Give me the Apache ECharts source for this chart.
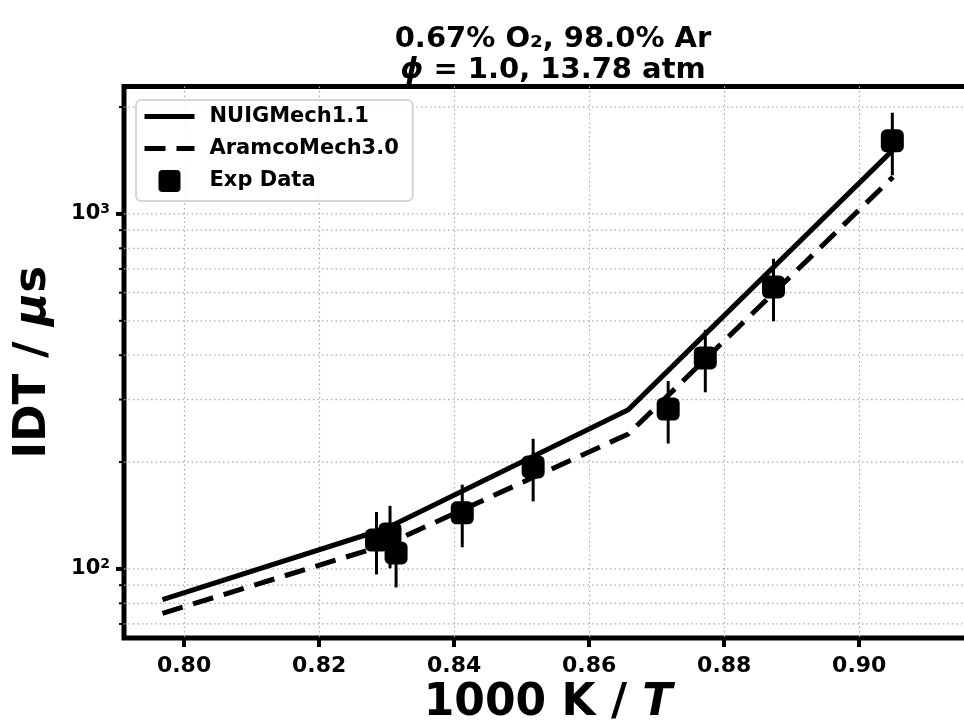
<!DOCTYPE html>
<html><head><meta charset="utf-8">
<script src="https://cdn.jsdelivr.net/npm/echarts@6/dist/echarts.min.js"></script>
<style>html,body{margin:0;padding:0;background:#fff}#c{width:964px;height:724px}</style>
</head><body><div id="c"></div>
<script>
// ---- data ----
const xTicks = [0.80, 0.82, 0.84, 0.86, 0.88, 0.90];
const yMajorTicks = [100, 1000];
const yMinorTicks = [70, 80, 90, 200, 300, 400, 500, 600, 700, 800, 900, 2000];
const simX = [0.7968, 0.8299, 0.8658, 0.9050];
const nuigIDT = [82, 130, 281, 1515];
const aramcoIDT = [75, 117, 240, 1271];
const expX = [0.8285, 0.8305, 0.8314, 0.8412, 0.8517, 0.8717, 0.8772, 0.8873, 0.9049];
const expIDT = [120.6, 125.5, 110.9, 143.9, 193.8, 282, 393, 623, 1606];
const expLow = [96.5, 100.4, 88.7, 115.1, 155.0, 225.6, 314.4, 498.4, 1284.8];
const expHigh = [144.7, 150.6, 133.1, 172.7, 232.6, 338.4, 471.6, 747.6, 1927.2];
const X_MIN = 0.7911, X_MAX = 0.9167, Y_MIN = 63.9, Y_MAX = 2285;

const FONT = 'DejaVu Sans';
const chart = echarts.init(document.getElementById('c'), null, {renderer: 'canvas'});

const gridLineData = yMajorTicks.map(v => [X_MIN, v, 1]).concat(yMinorTicks.map(v => [X_MIN, v, 0]));
const squareIcon = 'path://M4,0 H18 A4,4 0 0 1 22,4 V18 A4,4 0 0 1 18,22 H4 A4,4 0 0 1 0,18 V4 A4,4 0 0 1 4,0 Z';

const option = {
  animation: false,
  backgroundColor: '#fff',
  title: {
    text: '0.67% O₂, 98.0% Ar\n{i|ϕ} = 1.0, 13.78 atm',
    left: 548, top: 19, textAlign: 'center',
    textStyle: {fontFamily: FONT, fontWeight: 'bold', fontSize: 29, color: '#000', lineHeight: 31,
      rich: {i: {fontFamily: FONT, fontWeight: 'bold', fontStyle: 'italic', fontSize: 29, lineHeight: 31}}}
  },
  legend: {
    orient: 'vertical', left: 136, top: 100,
    data: [
      {name: 'NUIGMech1.1', itemStyle: {opacity: 0}},
      {name: 'AramcoMech3.0', itemStyle: {opacity: 0}},
      {name: 'Exp Data', icon: squareIcon}
    ],
    symbolKeepAspect: true,
    itemWidth: 50, itemHeight: 22, itemGap: 11,
    padding: [6, 14, 9, 6],
    lineStyle: {width: 5},
    backgroundColor: 'rgba(255,255,255,0.85)', borderColor: '#cccccc', borderWidth: 1.5, borderRadius: 5,
    textStyle: {fontFamily: FONT, fontWeight: 'bold', fontSize: 21, color: '#000', padding: [0, 0, 0, 10]}
  },
  grid: {left: 124, top: 86.5, width: 848, bottom: 86, show: true, borderColor: '#000', borderWidth: 5,
    containLabel: false, outerBoundsMode: 'none'},
  xAxis: {
    type: 'value', min: X_MIN, max: X_MAX,
    name: '1000 K / {i|T}', nameLocation: 'middle', nameGap: 44,
    nameTextStyle: {fontFamily: FONT, fontWeight: 'bold', fontSize: 44, color: '#000',
      rich: {i: {fontFamily: FONT, fontWeight: 'bold', fontStyle: 'italic', fontSize: 44}}},
    axisLine: {show: false},
    axisTick: {show: true, customValues: xTicks, length: 9, lineStyle: {width: 4, color: '#000'}},
    axisLabel: {customValues: xTicks, fontFamily: FONT, fontWeight: 'bold', fontSize: 22, color: '#000', margin: 17,
      formatter: v => v.toFixed(2)},
    splitLine: {show: true, lineStyle: {color: '#aaaaaa', width: 1.2, type: [1.5, 3]}}
  },
  yAxis: {
    type: 'log', logBase: 10, min: Y_MIN, max: Y_MAX,
    name: 'IDT / {i|μ}s', nameLocation: 'middle', nameGap: 68, nameRotate: 90,
    nameTextStyle: {fontFamily: FONT, fontWeight: 'bold', fontSize: 45, color: '#000',
      rich: {i: {fontFamily: FONT, fontWeight: 'bold', fontStyle: 'italic', fontSize: 45}}},
    axisLine: {show: false},
    axisTick: {show: false},
    splitLine: {show: false},
    axisLabel: {
      fontFamily: FONT, fontWeight: 'bold', fontSize: 21, color: '#000', margin: 14,
      formatter: function (v) {
        const e = Math.log10(v);
        if (Math.abs(e - Math.round(e)) < 1e-6 && (Math.round(e) === 2 || Math.round(e) === 3)) {
          return '10{s|' + Math.round(e) + '}';
        }
        return '';
      },
      rich: {s: {fontFamily: FONT, fontWeight: 'bold', fontSize: 14, verticalAlign: 'top', padding: [0, 0, 10, 0]}}
    }
  },
  series: [
    {
      type: 'custom', name: 'ygrid', silent: true, clip: false, z: 1,
      data: gridLineData,
      renderItem: function (params, api) {
        const v = api.value(1), major = api.value(2);
        const p0 = api.coord([X_MIN, v]);
        const p1 = api.coord([X_MAX, v]);
        return {
          type: 'group', children: [
            {type: 'line', shape: {x1: p0[0], y1: p0[1], x2: p1[0], y2: p1[1]},
              style: {stroke: '#aaaaaa', lineWidth: 1.2, lineDash: [1.5, 3]}},
            {type: 'line', shape: {x1: p0[0] - (major ? 8 : 5), y1: p0[1], x2: p0[0], y2: p0[1]},
              style: {stroke: '#000', lineWidth: major ? 4 : 2}}
          ]
        };
      }
    },
    {
      type: 'line', name: 'NUIGMech1.1', symbol: 'none', z: 3,
      data: simX.map((x, i) => [x, nuigIDT[i]]),
      lineStyle: {color: '#000', width: 5}, itemStyle: {color: '#000'}
    },
    {
      type: 'line', name: 'AramcoMech3.0', symbol: 'none', z: 3,
      data: simX.map((x, i) => [x, aramcoIDT[i]]),
      lineStyle: {color: '#000', width: 5, type: [21, 11]}, itemStyle: {color: '#000'}
    },
    {
      type: 'custom', name: 'errbars', silent: true, z: 4,
      data: expX.map((x, i) => [x, expIDT[i], expLow[i], expHigh[i]]),
      renderItem: function (params, api) {
        const x = api.value(0);
        const a = api.coord([x, api.value(2)]);
        const b = api.coord([x, api.value(3)]);
        return {type: 'line', shape: {x1: a[0], y1: a[1], x2: b[0], y2: b[1]}, style: {stroke: '#000', lineWidth: 3}};
      }
    },
    {
      type: 'scatter', name: 'Exp Data', symbol: 'roundRect', symbolSize: 23, z: 5,
      data: expX.map((x, i) => [x, expIDT[i]]),
      itemStyle: {color: '#000', opacity: 1}
    }
  ]
};
chart.setOption(option);
</script>
</body></html>
